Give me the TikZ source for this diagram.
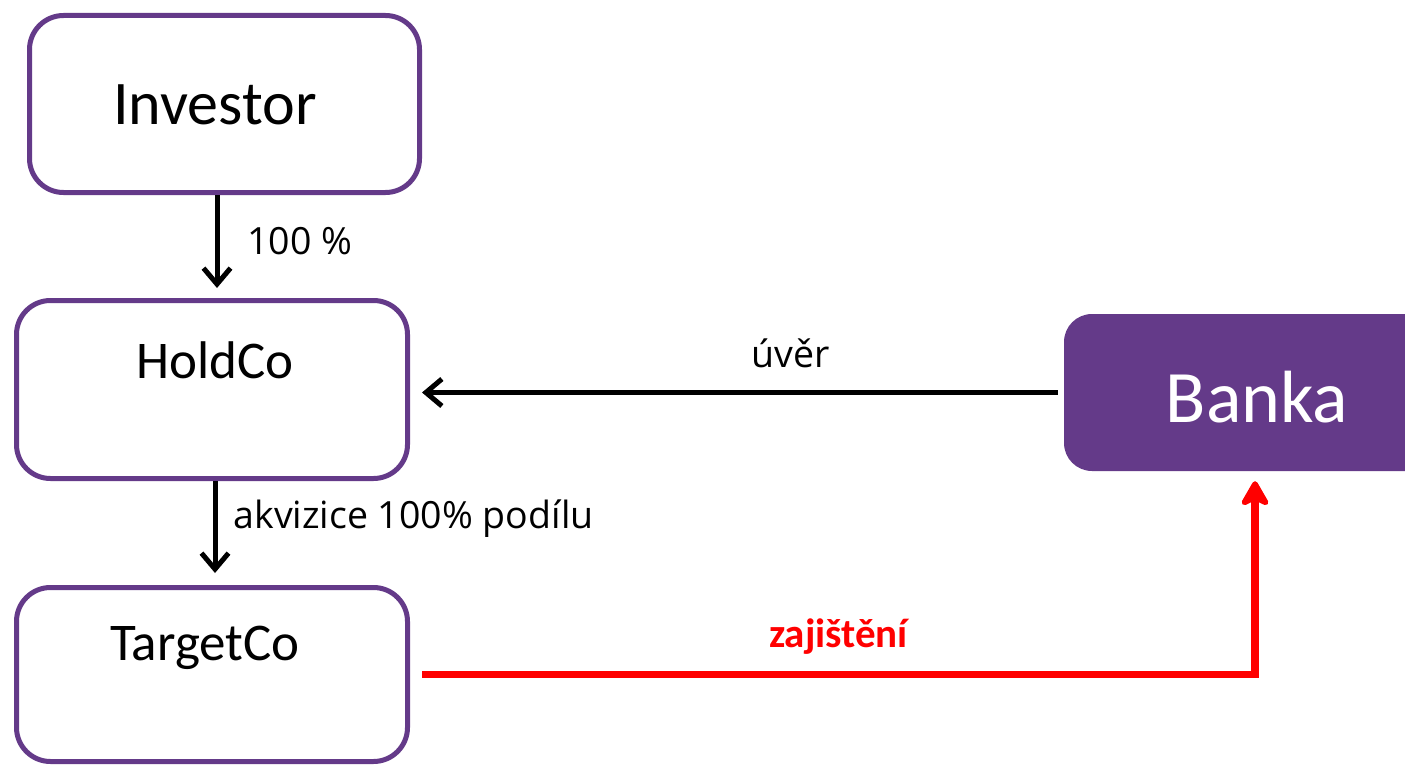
\documentclass[tikz,border=0pt]{standalone}
\usepackage{fontspec}
\setmainfont{Carlito}
\newfontfamily\labelfont{Open Sans}
\usetikzlibrary{arrows.meta}
\definecolor{boxpurple}{RGB}{100,58,137}
\definecolor{pptred}{RGB}{255,0,0}

\begin{document}
\begin{tikzpicture}[x=1pt,y=1pt,
    box/.style={draw=boxpurple,line width=5pt,rounded corners=34pt,fill=white,
      minimum width=391pt,minimum height=178pt,inner sep=0pt},
    bankbox/.style={fill=boxpurple,rounded corners=28pt,
      minimum width=382pt,minimum height=157pt,inner sep=0pt},
    boxtext/.style={font=\fontsize{53}{60}\selectfont,inner sep=0pt},
    lbl/.style={font=\labelfont\fontsize{37.5}{42}\selectfont,inner sep=0pt},
    arr/.style={line width=5pt,-{Straight Barb[length=16pt,width=27pt]}},
    redarr/.style={pptred,line width=7.5pt,-{Stealth[length=30pt,width=34pt,inset=8pt,round]}}]
  \useasboundingbox (0,0) rectangle (1405,-765);

  % white boxes
  \node[box,minimum width=390pt,minimum height=177pt] (investor) at (224.5,-104) {};
  \node[box] (holdco) at (212,-389.5) {};
  \node[box,minimum height=174pt] (targetco) at (212,-674.5) {};
  \node[bankbox] (banka) at (1255,-392.5) {};

  \node[boxtext,font=\fontsize{62}{70}\selectfont] (investortxt) at (215,-105) {Investor};
  \node[boxtext] (holdcotxt) at (215,-360) {HoldCo};
  \node[boxtext] (targetcotxt) at (205,-648) {TargetCo};
  \node[boxtext,font=\fontsize{74}{80}\selectfont,white] (bankatxt) at (1257,-397) {Banka};

  % ownership
  \draw[arr] (217,-195) -- (217,-288)
    node[lbl,midway,anchor=west,xshift=28pt] (pct) {100~\%};
  \draw[arr] (215,-481) -- (215,-573)
    node[lbl,midway,anchor=west,xshift=16pt,yshift=8pt] (akv) {akvizice 100\% podílu};

  % loan and collateral
  \draw[arr] ([xshift=-6pt]banka.west) -- ([xshift=12pt]banka.west -| holdco.east)
    node[lbl,pos=0.42,above=22pt] (uver) {úvěr};
  \draw[redarr] ([xshift=12pt]targetco.east) -| ([yshift=-10pt]banka.south)
    node[pos=0.25,above=16pt,font=\bfseries\fontsize{41}{46}\selectfont,inner sep=0pt] (zaj) {zajištění};
\end{tikzpicture}
\end{document}
